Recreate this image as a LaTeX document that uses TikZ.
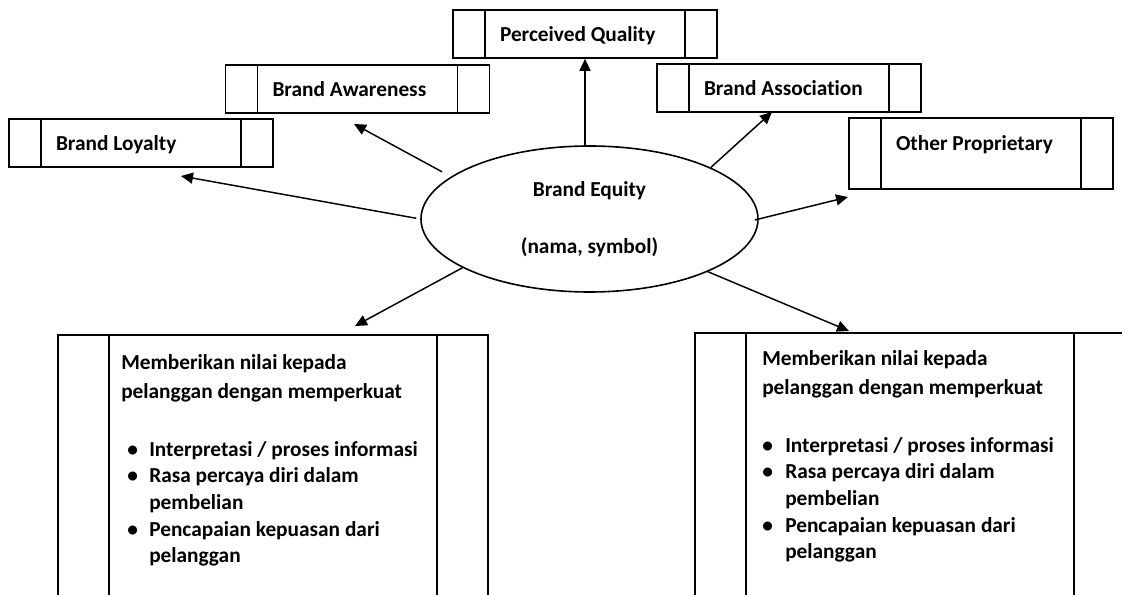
\documentclass[tikz,border=0pt]{standalone}
\usepackage{fontspec}
\setmainfont{Carlito}[Ligatures=NoCommon]
\usetikzlibrary{arrows.meta,shapes.geometric}

% bullet placed at #1 from the line start, item text starting #2 after the bullet
\newcommand\listbullet[2]{\hspace*{#1}\makebox[#2][l]{\textbullet}}

\tikzset{
  lbl/.style={font=\fontsize{16}{20}\selectfont\bfseries},
  procbox/.style={draw, rectangle, line width=1.2pt, inner sep=0pt,
    path picture={
      \draw[line width=1.2pt]
        ([xshift=#1]path picture bounding box.north west) --
        ([xshift=#1]path picture bounding box.south west)
        ([xshift=-#1]path picture bounding box.north east) --
        ([xshift=-#1]path picture bounding box.south east);
    }},
  topbox/.style={procbox=24pt, lbl, minimum width=198pt, minimum height=36pt,
    inner xsep=35.25pt, text width=127.5pt, align=flush left, text depth=0pt},
  bottombox/.style={procbox=38.25pt, minimum width=322.5pt, minimum height=225pt,
    anchor=north west},
  listtext/.style={lbl, anchor=north west, inner sep=0pt, align=flush left},
  arr/.style={line width=1.1pt, -{Triangle[length=9pt,width=8.25pt]}},
}

\begin{document}
\begin{tikzpicture}[x=0.75pt,y=-0.75pt]
  \useasboundingbox (0,0) rectangle (1122,595);
  \clip (0,0) rectangle (1122,595);

  % central ellipse
  \node[draw, ellipse, line width=1.2pt, lbl, align=center, inner sep=0pt,
        minimum width=252.75pt, minimum height=109.5pt] (eq) at (589.5,219)
        {Brand Equity\\[22.75pt](nama, symbol)};

  % dimension boxes
  \node[topbox] (loyal)  at (141,143)   {Brand Loyalty};
  \node[topbox] (aware)  at (357.5,89)  {Brand Awareness};
  \node[topbox] (qual)   at (585,34)    {Perceived Quality};
  \node[topbox] (assoc)  at (789,88)    {Brand Association};
  % taller box, label kept near its top edge
  \node[topbox, minimum height=53.25pt, text depth=16pt] (other) at (981,153.5)
        {Other Proprietary};

  % value boxes (continue past the lower edge)
  \node[bottombox] (bl) at (57,334) {};
  \node[bottombox] (br) at (694,332) {};

  \node[listtext] (bltext) at (121,354) {%
    Memberikan nilai kepada\\[1.75pt]
    pelanggan dengan memperkuat\\[23.5pt]
    \listbullet{4.5pt}{16.5pt}Interpretasi / proses informasi\\
    \listbullet{4.5pt}{16.5pt}Rasa percaya diri dalam\\
    \hspace*{21pt}pembelian\\
    \listbullet{4.5pt}{16.5pt}Pencapaian kepuasan dari\\
    \hspace*{21pt}pelanggan};

  \node[listtext] (brtext) at (762,350) {%
    Memberikan nilai kepada\\[1.75pt]
    pelanggan dengan memperkuat\\[23.5pt]
    \listbullet{0pt}{17.25pt}Interpretasi / proses informasi\\
    \listbullet{0pt}{17.25pt}Rasa percaya diri dalam\\
    \hspace*{17.25pt}pembelian\\
    \listbullet{0pt}{17.25pt}Pencapaian kepuasan dari\\
    \hspace*{17.25pt}pelanggan};

  % arrow end points
  \coordinate (tipL)  at (181,176);
  \coordinate (tipA)  at (354,124);
  \coordinate (tipS)  at (772,112);
  \coordinate (tipO)  at (848,197);
  \coordinate (tipBL) at (355,326);
  \coordinate (tipBR) at (849,331);

  % connectors
  \draw[arr, shorten <=3pt]   (eq.180)   -- (tipL);
  \draw[arr, shorten <=7.5pt] (eq.163.5) -- (tipA);
  \draw[arr] (eq.north -| qual.south) -- (qual.south);
  \draw[arr] (eq.23.3)  -- (tipS);
  \draw[arr, shorten <=-3pt] (eq.east) -- (tipO);
  \draw[arr] (eq.201.9) -- (tipBL);
  \draw[arr] (eq.336.2) -- (tipBR);
\end{tikzpicture}
\end{document}
